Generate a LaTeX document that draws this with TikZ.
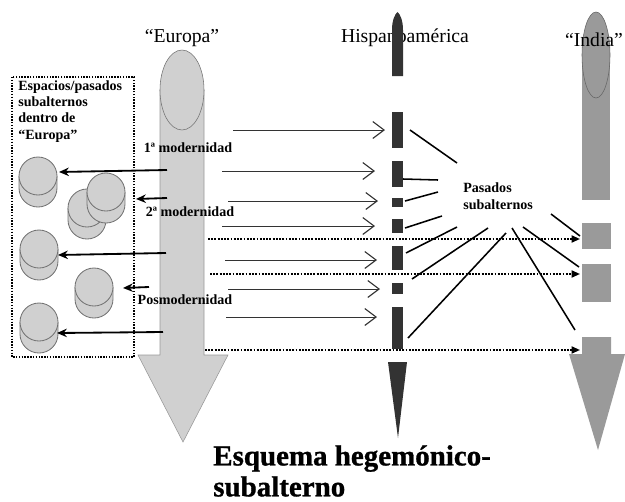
\documentclass[tikz,border=0pt]{standalone}
\usepackage{fontspec}
\setmainfont{Liberation Serif}
\newfontfamily\titlefont[BoldFeatures={FakeBold=1}]{Liberation Serif}
\usetikzlibrary{arrows.meta}
\definecolor{eugray}{HTML}{D0D0D0}
\definecolor{indgray}{HTML}{9A9A9A}
\definecolor{hispdark}{HTML}{333333}

\begin{document}
\begin{tikzpicture}[x=0.025cm,y=-0.025cm,
        openarr/.style={draw=black!80,line width=0.7pt,-{Straight Barb[length=8pt,width=12pt,line width=0.8pt]}},
        dotarr/.style={densely dotted,line width=1.3pt,-{Triangle[length=6pt,width=5pt]}},
        backarr/.style={line width=1.3pt,-{Stealth[length=7pt,width=6pt]}},
        pasline/.style={line width=1.1pt},
        head/.style={font=\fontsize{14}{16}\selectfont,inner sep=0pt},
        lbl/.style={font=\fontsize{10}{12}\selectfont\bfseries,inner sep=0pt},
        discline/.style={draw=black!55,line width=0.6pt}]
    \useasboundingbox (0,0) rectangle (625,501);
    \def\disc(#1,#2){%
        \fill[eugray] (#1-19,#2) rectangle (#1+19,#2+12);
        \fill[eugray] (#1,#2+12) circle (19);
        \draw[discline] (#1-19,#2) -- (#1-19,#2+12) arc (180:0:19) -- (#1+19,#2);
        \draw[discline,fill=eugray] (#1,#2) circle (19);}

    % "Europa"
    \draw[fill=eugray,draw=black!40] (160,90) -- (160,355) -- (138,355) -- (183,442) -- (228,355) -- (204,355) -- (204,90);
    \draw[fill=eugray,draw=black!55] (182,90) ellipse [x radius=22,y radius=40];
    \node[head] (eu) at (182,38) {“Europa”};

    % Hispanoamerica
    \node[head] (hisp) at (405,38) {Hispanoamérica};
    \fill[hispdark] (392,76) -- (392,30) .. controls (392,20) and (395,14) .. (397.5,12)
        .. controls (400,14) and (403,20) .. (403,30) -- (403,76) -- cycle;
    \foreach \ya/\yb in {112/148,161/187,198/207,219/233,246/270,283/294,307/349}
        \fill[hispdark] (392,\ya) rectangle (403,\yb);
    \fill[hispdark] (388,362) -- (407,362) -- (398,438) -- cycle;

    % "India"
    \fill[indgray] (582,55) rectangle (610,200);
    \draw[fill=indgray,draw=black!60] (596,55) ellipse [x radius=14,y radius=43];
    \fill[indgray] (582,223) rectangle (611,249);
    \fill[indgray] (582,264) rectangle (611,302);
    \fill[indgray] (582,337) -- (582,354) -- (569,354) -- (598,450) -- (625,354) -- (611,354) -- (611,337) -- cycle;
    \node[head] (ind) at (594,40) {“India”};

    % espacios dentro de Europa
    \draw[densely dotted,line width=1pt] (12,77) rectangle (134,357);
    \node[lbl,font=\fontsize{10}{11.7}\selectfont\bfseries,anchor=north west,align=left] (esp) at (18,80)
        {Espacios/pasados\\subalternos\\dentro de\\“Europa”};
    \disc(38,176)
    \disc(87,208)
    \disc(106,192)
    \disc(39,249)
    \disc(94,287)
    \disc(39,322)

    \foreach \xa/\ya/\xb/\yb [count=\i] in {167/170/59/172,167/198/136/199,166/253/58/255,149/287/123/288,163/332/57/333}{
        \coordinate (b\i) at (\xa,\ya);
        \coordinate (c\i) at (\xb,\yb);
        \draw[backarr] (b\i) -- (c\i);
    }
    \node[lbl] (m1) at (188,148) {1ª modernidad};
    \node[lbl] (m2) at (190,212) {2ª modernidad};
    \node[lbl] (pm) at (185,300) {Posmodernidad};

    % flechas hacia Hispanoamerica e India
    \foreach \y/\xa/\xb [count=\i] in {130/233/385,171/222/375,201/228/378,226/222/375,260/225/377,289/228/380,317/226/377}{
        \coordinate (h\i) at (\xa,\y);
        \coordinate (k\i) at (\xb,\y);
        \draw[openarr] (h\i) -- (k\i);
    }
    \foreach \y/\xa [count=\i] in {239/208,274/210,350/205}{
        \coordinate (d\i) at (\xa,\y);
        \coordinate (e\i) at (580,\y);
        \draw[dotarr] (d\i) -- (e\i);
    }

    % pasados subalternos
    \node[lbl,align=left,anchor=west] (pas) at (463,196) {Pasados\\subalternos};
    \foreach \xa/\ya/\xb/\yb [count=\i] in {410/130/457/163,403/179/438/180,405/201/438/192,405/228/442/216,
            406/253/457/227,412/279/488/228,408/338/506/233,512/228/575/330,523/227/579/267,551/214/580/236}{
        \coordinate (s\i) at (\xa,\ya);
        \coordinate (t\i) at (\xb,\yb);
        \draw[pasline] (s\i) -- (t\i);
    }

    \node[anchor=north west,inner sep=0pt,align=left,font=\fontsize{20.6}{22}\selectfont\titlefont\bfseries] (title) at (213,445)
        {Esquema hegemónico-\\subalterno};
\end{tikzpicture}
\end{document}
